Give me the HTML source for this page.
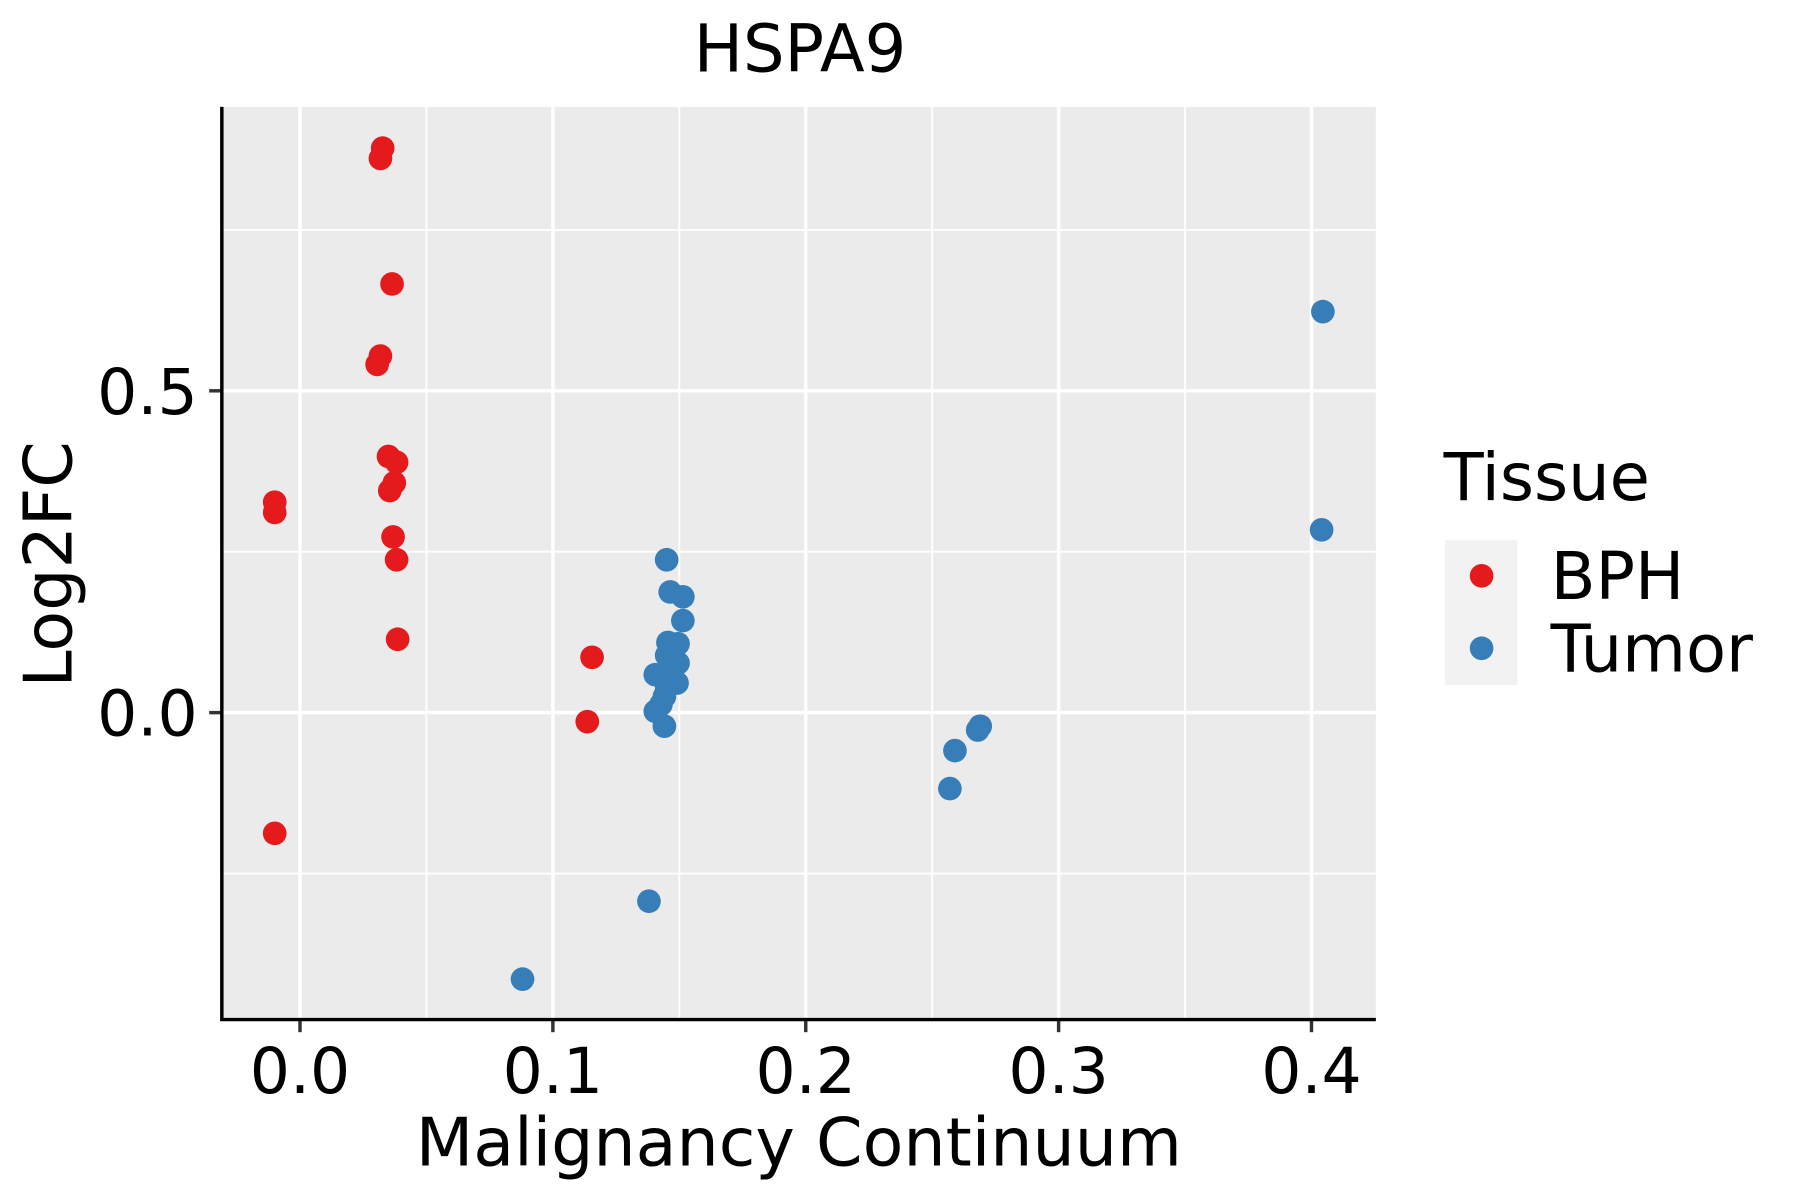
<!DOCTYPE html>
<html><head><meta charset="utf-8"><style>
html,body{margin:0;padding:0;background:#fff;}
svg{display:block;font-family:"DejaVu Sans","Liberation Sans",sans-serif;}
</style></head><body>
<svg id="chart" width="1800" height="1200" viewBox="0 0 1566 1044" preserveAspectRatio="none" xmlns="http://www.w3.org/2000/svg">
<g id="plot"></g>
</svg>
<script>
const bphX = [0.0327,0.0318,0.0364,0.0318,0.0305,0.035,0.0382,0.0373,0.0355,-0.01,-0.01,0.0368,0.0382,0.0386,0.1155,0.1136,-0.01];
const bphY = [0.877,0.861,0.666,0.554,0.541,0.398,0.389,0.357,0.345,0.327,0.311,0.273,0.2375,0.114,0.086,-0.014,-0.1875];
const tumX = [0.4045,0.404,0.145,0.1464,0.1514,0.1514,0.1455,0.1495,0.145,0.1495,0.1459,0.1405,0.1491,0.145,0.1441,0.1427,0.1405,0.1441,0.269,0.268,0.259,0.257,0.138,0.088];
const tumY = [0.623,0.284,0.2375,0.1875,0.180,0.143,0.109,0.107,0.089,0.077,0.071,0.059,0.046,0.039,0.025,0.0125,0.002,-0.021,-0.021,-0.027,-0.059,-0.118,-0.293,-0.414];
const xTicks = [0.0,0.1,0.2,0.3,0.4];
const xTickLabels = ["0.0","0.1","0.2","0.3","0.4"];
const yTicks = [0.0,0.5];
const yTickLabels = ["0.0","0.5"];

const NS="http://www.w3.org/2000/svg";
const P={l:193,r:1197,t:93,b:887};
const sx=v=>261+(v-0)*2200;
const sy=v=>620-v*560;
const g=document.getElementById('plot');
function mk(tag,attrs,parent){const e=document.createElementNS(NS,tag);for(const k in attrs)e.setAttribute(k,attrs[k]);(parent||g).appendChild(e);return e;}

let e=mk('rect',{x:P.l,y:P.t,width:P.r-P.l,height:P.b-P.t,fill:'#EBEBEB'});


for(const v of [0.05,0.15,0.25,0.35]){e=mk('line',{x1:sx(v),x2:sx(v),y1:P.t,y2:P.b,stroke:'#fff','stroke-width':1.6});

}
for(const v of [-0.25,0.25,0.75]){e=mk('line',{x1:P.l,x2:P.r,y1:sy(v),y2:sy(v),stroke:'#fff','stroke-width':1.6});

}
xTicks.forEach((v,i)=>{e=mk('line',{x1:sx(v),x2:sx(v),y1:P.t,y2:P.b,stroke:'#fff','stroke-width':3});


e=mk('line',{x1:sx(v),x2:sx(v),y1:P.b,y2:P.b+11,stroke:'#333','stroke-width':3});


e=mk('text',{x:sx(v),y:P.b+64,'text-anchor':'middle','font-size':55,fill:'#000'});e.textContent=xTickLabels[i];

});
yTicks.forEach((v,i)=>{e=mk('line',{x1:P.l,x2:P.r,y1:sy(v),y2:sy(v),stroke:'#fff','stroke-width':3});


e=mk('line',{x1:P.l-11,x2:P.l,y1:sy(v),y2:sy(v),stroke:'#333','stroke-width':3});


e=mk('text',{x:P.l-21,y:sy(v)+20,'text-anchor':'end','font-size':55,fill:'#000'});e.textContent=yTickLabels[i];

});
e=mk('path',{d:`M${P.l},${P.t} V${P.b} H${P.r}`,fill:'none',stroke:'#000','stroke-width':3});


bphX.forEach((x,i)=>{e=mk('circle',{cx:sx(x),cy:sy(bphY[i]),r:10.3,fill:'#E41A1C'});

});
tumX.forEach((x,i)=>{e=mk('circle',{cx:sx(x),cy:sy(tumY[i]),r:10.3,fill:'#377EB8'});

});
e=mk('text',{x:696,y:62,'text-anchor':'middle','font-size':57,fill:'#000'});e.textContent='HSPA9';


e=mk('text',{x:695,y:1014,'text-anchor':'middle','font-size':58,fill:'#000'});e.textContent='Malignancy Continuum';


e=mk('text',{x:0,y:0,'text-anchor':'middle','font-size':58,fill:'#000',transform:'translate(62,491) rotate(-90)'});e.textContent='Log2FC';


e=mk('text',{x:1256,y:435,'font-size':57,fill:'#000'});e.textContent='Tissue';


e=mk('rect',{x:1257,y:470,width:63,height:126,fill:'#F2F2F2'});


e=mk('circle',{cx:1289,cy:501,r:10.3,fill:'#E41A1C'});


e=mk('circle',{cx:1289,cy:564,r:10.3,fill:'#377EB8'});


e=mk('text',{x:1349,y:521,'font-size':57,fill:'#000'});e.textContent='BPH';


e=mk('text',{x:1349,y:584,'font-size':57,fill:'#000'});e.textContent='Tumor';


</script>
</body></html>
